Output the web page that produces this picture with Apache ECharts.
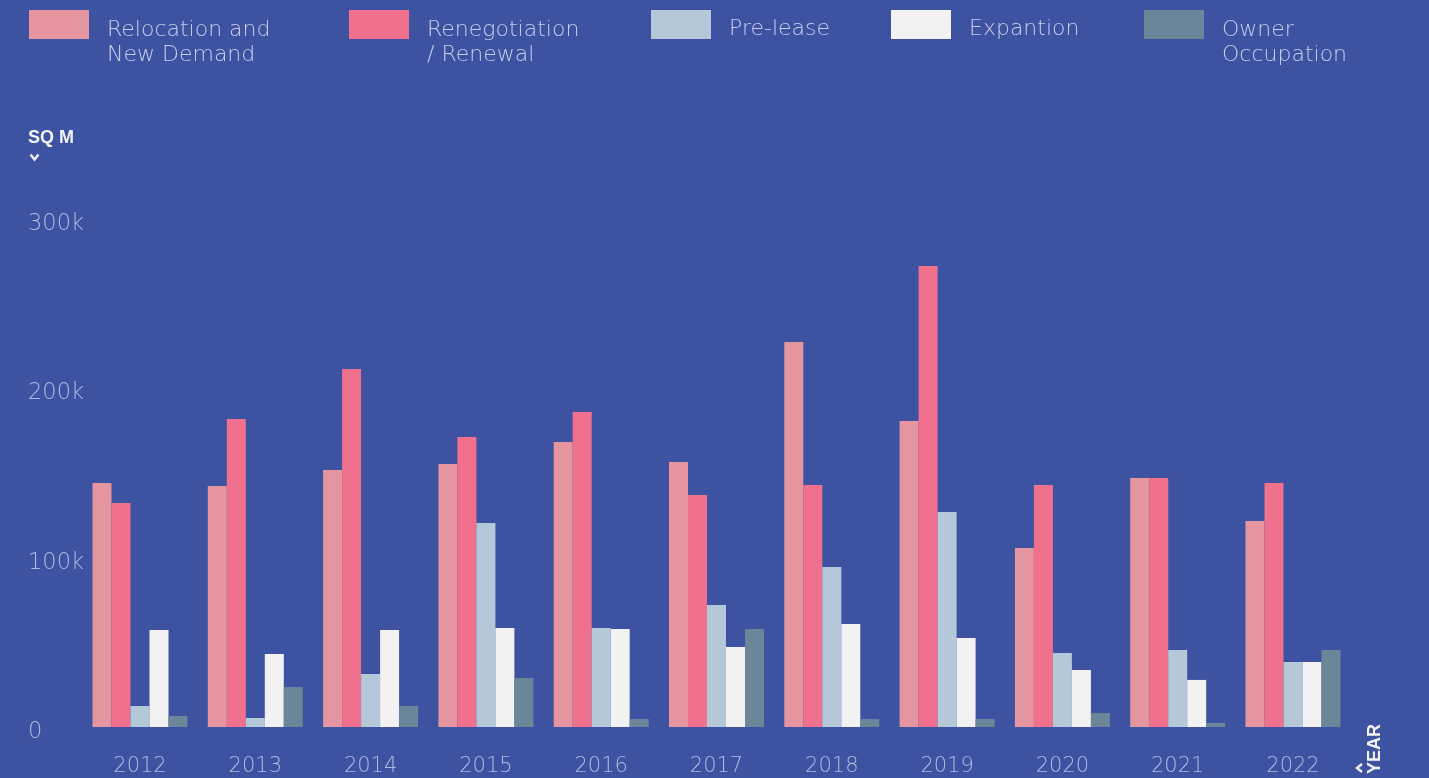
<!DOCTYPE html>
<html>
<head>
<meta charset="utf-8">
<script src="https://cdn.jsdelivr.net/npm/echarts@6/dist/echarts.min.js"></script>
<style>
  html, body { margin: 0; padding: 0; background: #3D52A0; }
  #chart { width: 1429px; height: 778px; }
</style>
</head>
<body>
<div id="chart"></div>
<script>
// Office take-up by transaction type, square metres per year
const years = ['2012', '2013', '2014', '2015', '2016', '2017', '2018', '2019', '2020', '2021', '2022'];

const relocationNewDemand = [144100, 142300, 151800, 155300, 168300, 156500, 227400, 180700, 105700, 147000, 121700];
const renegotiationRenewal = [132300, 181900, 211400, 171300, 186000, 137000, 142900, 272200, 142900, 147000, 144100];
const preLease = [12400, 5300, 31300, 120500, 58500, 72000, 94500, 127000, 43700, 45500, 38400];
const expansion = [57300, 43100, 57300, 58500, 57900, 47200, 60800, 52600, 33700, 27800, 38400];
const ownerOccupation = [6500, 23600, 12400, 28900, 4700, 57900, 4700, 4700, 8300, 2400, 45500];

const yTicks = [0, 100000, 200000, 300000];

const seriesDefs = [
  { name: 'Relocation and\nNew Demand', data: relocationNewDemand, color: '#E495A0', legendLeft: 29 },
  { name: 'Renegotiation\n/ Renewal', data: renegotiationRenewal, color: '#F0718E', legendLeft: 349 },
  { name: 'Pre-lease', data: preLease, color: '#B5C8DA', legendLeft: 651 },
  { name: 'Expantion', data: expansion, color: '#F2F2F2', legendLeft: 891 },
  { name: 'Owner\nOccupation', data: ownerOccupation, color: '#6B8599', legendLeft: 1144 }
];

const axisTextColor = '#B3BADF';
const legendTextColor = '#C9CEEA';
const bg = '#3D52A0';
const lightFont = '"DejaVu Sans", Roboto, sans-serif';

const chart = echarts.init(document.getElementById('chart'), null, { renderer: 'canvas' });

// Legend text: a thin spacer line first so the first text line sits level with the swatch
function legendLabel(name) {
  const lines = name.split('\n');
  const spacer = lines.length > 1 ? '{s2| }' : '{s1| }';
  return spacer + '\n' + lines.map(l => '{a|' + l + '}').join('\n');
}

// One legend block per series so each swatch sits at its own column
const legends = seriesDefs.map(s => {
  const twoLines = s.name.indexOf('\n') >= 0;
  return {
    data: [s.name],
    left: s.legendLeft,
    top: twoLines ? -1 : 10,
    padding: 0,
    itemWidth: 60,
    itemHeight: 29,
    itemGap: 0,
    icon: 'rect',
    selectedMode: false,
    formatter: legendLabel,
    textStyle: {
      color: legendTextColor,
      padding: [0, 0, 0, 13],
      rich: {
        s1: { lineHeight: 10, fontSize: 1 },
        s2: { lineHeight: 36, fontSize: 1 },
        a: {
          color: legendTextColor,
          fontFamily: lightFont,
          fontWeight: 200,
          fontSize: 22,
          lineHeight: 25
        }
      }
    }
  };
});

const option = {
  backgroundColor: bg,
  animation: false,
  legend: legends,
  grid: { left: 82.35, right: 78.35, top: 219, bottom: 51 },
  xAxis: {
    type: 'category',
    data: years,
    axisLine: { show: false },
    axisTick: { show: false },
    axisLabel: {
      color: axisTextColor,
      fontFamily: lightFont,
      fontWeight: 200,
      fontSize: 21,
      margin: 29
    }
  },
  yAxis: {
    type: 'value',
    min: yTicks[0],
    max: yTicks[yTicks.length - 1],
    interval: yTicks[1] - yTicks[0],
    splitLine: { show: false },
    axisLine: { show: false },
    axisTick: { show: false },
    axisLabel: {
      color: axisTextColor,
      align: 'left',
      margin: 54.35,
      formatter: v => '{v|' + (v === 0 ? '0' : (v / 1000) + 'k') + '}',
      rich: {
        v: {
          color: axisTextColor,
          fontFamily: lightFont,
          fontWeight: 200,
          fontSize: 22.5,
          padding: [10, 0, 0, 0]
        }
      }
    }
  },
  series: seriesDefs.map(s => ({
    name: s.name,
    type: 'bar',
    data: s.data,
    barWidth: 19,
    barGap: '0%',
    itemStyle: { color: s.color },
    emphasis: { disabled: true }
  })),
  graphic: [
    {
      type: 'text', left: 28, top: 129,
      style: { text: 'SQ M', fill: '#F2F2F2', font: 'bold 18px "Liberation Sans", Arial, sans-serif' }
    },
    {
      type: 'polyline', left: 28, top: 152,
      shape: { points: [[0, 0], [4, 5], [8, 0]] },
      style: { stroke: '#F2F2F2', lineWidth: 2.4, fill: null }
    },
    {
      type: 'text', x: 1366, y: 774, rotation: Math.PI / 2,
      style: { text: 'YEAR', fill: '#F2F2F2', font: 'bold 18px "Liberation Sans", Arial, sans-serif', align: 'left', verticalAlign: 'top' }
    },
    {
      type: 'polyline', x: 1357, y: 764,
      shape: { points: [[5, 0], [0, 4], [5, 8]] },
      style: { stroke: '#F2F2F2', lineWidth: 2.4, fill: null }
    }
  ]
};

chart.setOption(option);
</script>
</body>
</html>
